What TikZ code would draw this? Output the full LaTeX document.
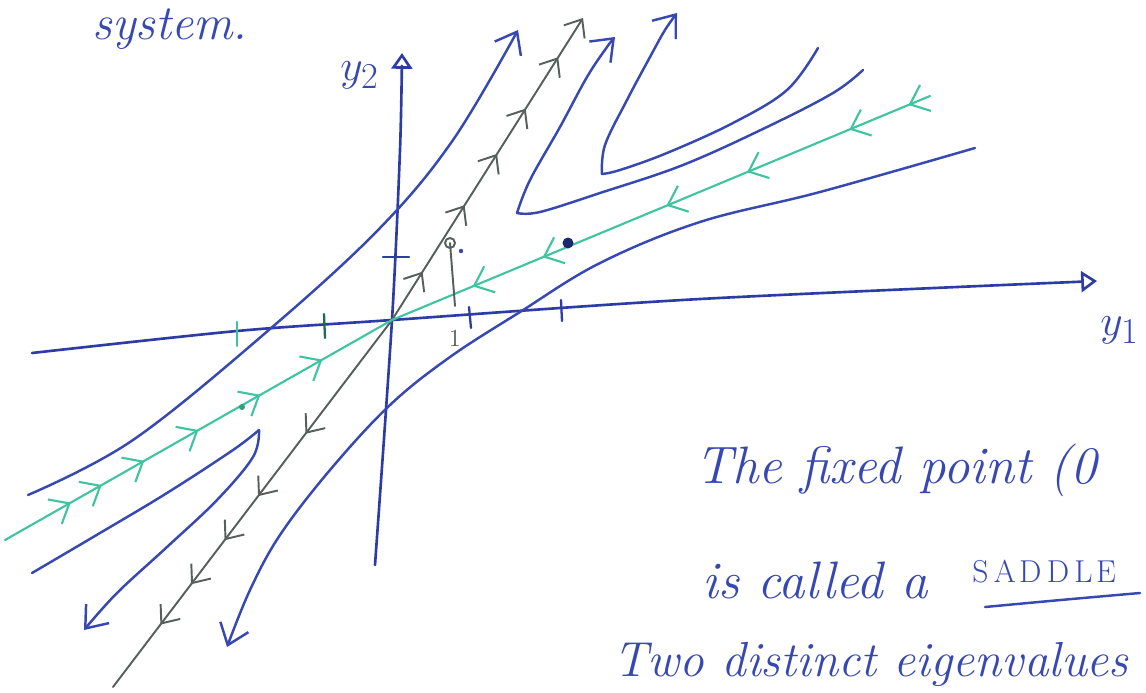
\documentclass[tikz,border=0pt]{standalone}
\usetikzlibrary{arrows.meta,decorations.markings}
\definecolor{penblue}{RGB}{55,72,178}
\definecolor{axblue}{RGB}{45,60,165}
\definecolor{pengreen}{RGB}{62,196,160}
\definecolor{pendkgreen}{RGB}{30,110,80}
\definecolor{pengray}{RGB}{85,95,92}
\definecolor{pennavy}{RGB}{30,38,110}
\tikzset{
  bbarb/.tip={Straight Barb[length=11pt,width=17pt]},
  gbarb/.tip={Straight Barb[length=8.5pt,width=14pt]},
  sbarb/.tip={Straight Barb[length=9.5pt,width=16pt]},
  axtip/.tip={Triangle[open,length=9pt,width=12pt]},
  traj/.style={penblue, line width=1.4pt, line cap=round, line join=round},
  axisline/.style={axblue, line width=1.5pt, line cap=round, line join=round},
  unst/.style={pengray, line width=1.1pt, line cap=round},
  stab/.style={pengreen, line width=1.2pt, line cap=round},
  tick/.style={line width=1.3pt, line cap=round},
  txt/.style={text=penblue, inner sep=0pt, anchor=base west},
  hand/.style={txt, font=\fontsize{30}{32}\selectfont\itshape},
}
\begin{document}
\begin{tikzpicture}[x=0.02cm,y=-0.02cm]
\useasboundingbox (0,0) rectangle (1146,693);
\fill[white] (0,0) rectangle (1146,693);

% key points
\coordinate (O) at (392,320);
\coordinate (GU) at (583,18);
\coordinate (GL) at (113,687);
\coordinate (SE) at (930,96);
\coordinate (SW) at (5,540);

% axes
\draw[axisline, -axtip] plot[smooth] coordinates {(32,353) (237,331) (392,320) (700,299) (1097,281)};
\draw[axisline, -axtip] plot[smooth] coordinates {(375,565) (392,320) (400,150) (402,53)};
\node[txt, font=\fontsize{28}{30}\selectfont] (ly2) at (340,80) {$y_2$};
\node[txt, font=\fontsize{28}{30}\selectfont] (ly1) at (1100,335) {$y_1$};

% ticks
\draw[tick, axblue] (383,257) -- (409,257);
\draw[tick, axblue] (469,307) -- (471,328);
\draw[tick, axblue] (561,300) -- (562,321);
\draw[tick, pengreen] (237,322) -- (237,346);
\draw[tick, pendkgreen] (324,314) -- (325,338);

% blue trajectories
\draw[traj, -bbarb] plot[smooth, tension=0.6] coordinates {(28,495) (133,440) (270,329) (380,228) (453,140) (518,30)};
\draw[traj] plot[smooth, tension=0.6] coordinates {(818,48) (787,90) (733,123) (667,153) (620,170) (602,174)};
\draw[traj, -bbarb] plot[smooth, tension=0.6] coordinates {(602,174) (605,145) (627,100) (650,57) (665,30) (677,13)};
\draw[traj] plot[smooth, tension=0.6] coordinates {(863,70) (833,93) (767,127) (683,165) (600,193) (540,212) (517,213)};
\draw[traj, -bbarb] plot[smooth, tension=0.6] coordinates {(517,213) (530,180) (560,127) (587,77) (607,47) (615,37)};
\draw[traj, -bbarb] plot[smooth, tension=0.6] coordinates {(975,148) (820,192) (700,222) (600,263) (520,312) (450,357) (390,405) (330,470) (280,535) (250,590) (227,647)};
\draw[traj] plot[smooth, tension=0.6] coordinates {(32,573) (100,533) (167,493) (233,450) (259,430)};
\draw[traj, -bbarb] plot[smooth, tension=0.6] coordinates {(259,430) (253,457) (217,500) (167,547) (117,593) (84,630)};

% unstable eigenvector (gray)
\draw[unst, -gbarb, postaction={decorate}, decoration={markings,
  mark=at position 0.16 with {\arrow{gbarb}},
  mark=at position 0.38 with {\arrow{gbarb}},
  mark=at position 0.55 with {\arrow{gbarb}},
  mark=at position 0.70 with {\arrow{gbarb}},
  mark=at position 0.87 with {\arrow{gbarb}}}] (O) -- (GU);
\draw[unst, postaction={decorate}, decoration={markings,
  mark=at position 0.31 with {\arrow{gbarb}},
  mark=at position 0.48 with {\arrow{gbarb}},
  mark=at position 0.60 with {\arrow{gbarb}},
  mark=at position 0.72 with {\arrow{gbarb}},
  mark=at position 0.83 with {\arrow{gbarb}}}] (O) -- (GL);

% stable eigenvector (green)
\draw[stab, postaction={decorate}, decoration={markings,
  mark=at position 0.04 with {\arrow{sbarb}},
  mark=at position 0.15 with {\arrow{sbarb}},
  mark=at position 0.34 with {\arrow{sbarb}},
  mark=at position 0.49 with {\arrow{sbarb}},
  mark=at position 0.72 with {\arrow{sbarb}},
  mark=at position 0.85 with {\arrow{sbarb}}}] (SE) -- (O);
\draw[stab, postaction={decorate}, decoration={markings,
  mark=at position 0.17 with {\arrow{sbarb}},
  mark=at position 0.25 with {\arrow{sbarb}},
  mark=at position 0.36 with {\arrow{sbarb}},
  mark=at position 0.50 with {\arrow{sbarb}},
  mark=at position 0.66 with {\arrow{sbarb}},
  mark=at position 0.82 with {\arrow{sbarb}}}] (SW) -- (O);

% marked points
\coordinate (P) at (450,243);
\coordinate (Pfoot) at (455,306);
\draw[unst] (P) -- (Pfoot);
\draw[pengray, line width=1.1pt] (P) circle[radius=5];
\fill[penblue] (461,251) circle[radius=2.2];
\fill[pennavy] (568,243) circle[radius=5.5];
\fill[pengreen!80!black] (242,407) circle[radius=3];
\node[text=pengray, inner sep=0pt, anchor=base, font=\fontsize{14}{14}\selectfont] (one) at (455,346) {1};

% handwritten text
\node[txt, font=\fontsize{28}{30}\selectfont\itshape] (sys) at (92,39) {system.};
\node[hand] (l1) at (695,483) {The fixed point (0};
\node[hand] (l2) at (702,598) {is called a};
\node[txt, font=\fontsize{18}{20}\selectfont] (sad) at (972,582) {S\hspace{3pt}A\hspace{2pt}D\hspace{3pt}D\hspace{3pt}L\hspace{2pt}E};
\draw[penblue, line width=1.4pt, line cap=round] (985,607) .. controls (1060,600) .. (1140,593);
\node[txt, font=\fontsize{28}{30}\selectfont\itshape] (l3) at (613,676) {Two distinct eigenvalues};
\end{tikzpicture}
\end{document}
